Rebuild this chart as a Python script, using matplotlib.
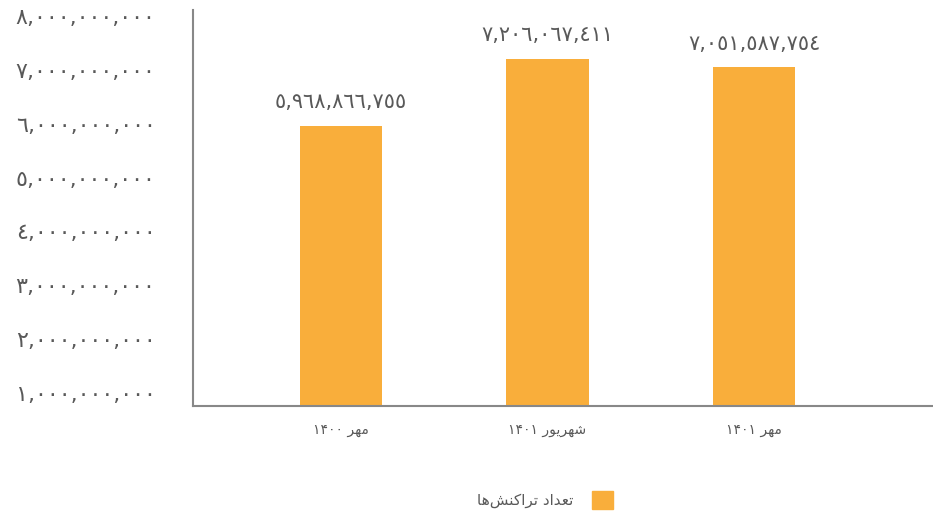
import matplotlib
matplotlib.use("Agg")
import matplotlib.pyplot as plt
from matplotlib.patches import Patch

# data
months = ["مهر ۱۴۰۰", "شهریور ۱۴۰۱", "مهر ۱۴۰۱"]
transactions = [5968866755, 7206067411, 7051587754]
series_name = "تعداد تراکنش‌ها"
y_ticks = [1e9, 2e9, 3e9, 4e9, 5e9, 6e9, 7e9, 8e9]

BAR = "#F9AE3B"
TXT = "#595959"

# minimal arabic shaping (matplotlib draws LTR without joining)
# letter: (isolated, final, initial, medial); None -> does not join forward
FORMS = {
    "ت": ("\uFE95", "\uFE96", "\uFE97", "\uFE98"),
    "ع": ("\uFEC9", "\uFECA", "\uFECB", "\uFECC"),
    "د": ("\uFEA9", "\uFEAA", None, None),
    "ا": ("\uFE8D", "\uFE8E", None, None),
    "ر": ("\uFEAD", "\uFEAE", None, None),
    "و": ("\uFEED", "\uFEEE", None, None),
    "ک": ("\uFB8E", "\uFB8F", "\uFB90", "\uFB91"),
    "ن": ("\uFEE5", "\uFEE6", "\uFEE7", "\uFEE8"),
    "ش": ("\uFEB5", "\uFEB6", "\uFEB7", "\uFEB8"),
    "ه": ("\uFEE9", "\uFEEA", "\uFEEB", "\uFEEC"),
    "م": ("\uFEE1", "\uFEE2", "\uFEE3", "\uFEE4"),
    "ی": ("\uFBFC", "\uFBFD", "\uFBFE", "\uFBFF"),
}


def shape_word(w):
    out = []
    for i, ch in enumerate(w):
        f = FORMS.get(ch)
        if f is None:
            out.append(ch)
            continue
        prev = w[i-1] if i > 0 else None
        nxt = w[i+1] if i < len(w)-1 else None
        join_prev = prev in FORMS and FORMS[prev][2] is not None
        join_next = nxt in FORMS and f[2] is not None
        if join_prev and join_next:
            out.append(f[3])
        elif join_prev:
            out.append(f[1])
        elif join_next:
            out.append(f[2])
        else:
            out.append(f[0])
    return "".join(out)


def rtl(s):
    # shape arabic words, reverse them for display, keep digit runs as is
    parts = s.replace("\u200c", " \u200c").split(" ")
    vis = []
    for p in parts:
        if p.startswith("\u200c"):
            p = p[1:]
            vis.append(("glue", shape_word(p)[::-1]))
        elif any(c in FORMS for c in p):
            vis.append(("w", shape_word(p)[::-1]))
        else:
            vis.append(("w", p))
    vis = vis[::-1]
    txt = ""
    for i, (kind, p) in enumerate(vis):
        txt += p
        if i < len(vis) - 1 and vis[i][0] != "glue":
            txt += " "
    return txt


def ar_digits(n):
    s = f"{int(n):,}"
    return s.translate(str.maketrans("0123456789", "٠١٢٣٤٥٦٧٨٩"))


plt.rcParams["font.family"] = ["DejaVu Sans"]

fig = plt.figure(figsize=(9.33, 5.13), dpi=100)
ax = fig.add_axes([193/933, 1-406/513, 1-193/933, (406-10)/513])

x = list(range(len(months)))
bars = ax.bar(x, transactions, width=0.40, color=BAR, zorder=2)

for xi, v in zip(x, transactions):
    ax.annotate(ar_digits(v), (xi, v), xytext=(0, 17), textcoords="offset points",
                ha="center", va="center", fontsize=15, color=TXT)

ax.set_xlim(-0.717, 2.867)
ax.set_ylim(0.75e9, 8.12e9)
ax.set_yticks(y_ticks)
ax.set_yticklabels([ar_digits(t) for t in y_ticks], fontsize=16, color=TXT)
ax.set_xticks(x)
ax.set_xticklabels([rtl(m) for m in months], fontsize=10, color=TXT)
ax.tick_params(axis="y", length=0, pad=27)
ax.tick_params(axis="x", length=0, pad=12)

for s in ["top", "right"]:
    ax.spines[s].set_visible(False)
for s in ["left", "bottom"]:
    ax.spines[s].set_color("#888888")
    ax.spines[s].set_linewidth(1.5)

handle = Patch(color=BAR)
fig.legend([handle], [rtl(series_name)], loc="center", bbox_to_anchor=(545/933, 1-500/513),
           frameon=False, markerfirst=False, fontsize=11, labelcolor=TXT,
           handlelength=1.4, handleheight=1.4, handletextpad=1.2)

fig.savefig("out.png", dpi=100)
